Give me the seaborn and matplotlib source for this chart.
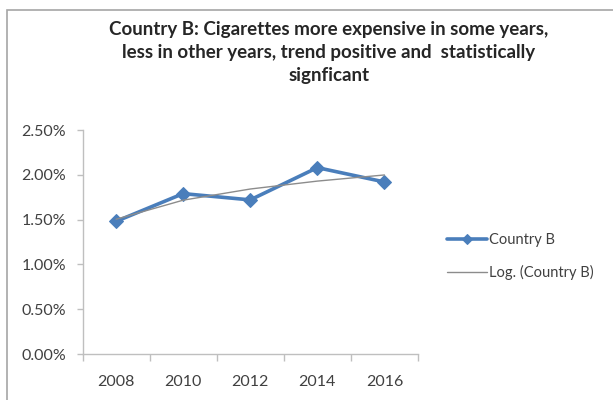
import numpy as np
import pandas as pd
import matplotlib
matplotlib.use("Agg")
import matplotlib.pyplot as plt
import seaborn as sns
from matplotlib.patches import Rectangle
from matplotlib.ticker import FuncFormatter

years = ["2008", "2010", "2012", "2014", "2016"]
country_b = [0.0148, 0.0179, 0.0172, 0.0208, 0.0192]
title = ("Country B: Cigarettes more expensive in some years,\n"
         "less in other years, trend positive and  statistically\n"
         "signficant")

sns.set_theme(style="white")
plt.rcParams['font.family'] = ['Lato', 'DejaVu Sans']

idx = np.arange(len(years))
df = pd.DataFrame({"x": idx, "y": country_b})

# logarithmic trendline (Excel style: y = a*ln(x) + b, x = 1..n)
lx = np.log(idx + 1)
a, b = np.polyfit(lx, np.array(country_b), 1)
trend = pd.DataFrame({"x": idx, "y": a * lx + b})

fig = plt.figure(figsize=(6.13, 4.0), dpi=100)
fig.patches.append(Rectangle((7 / 613, -0.1), 1.2, (400 - 10) / 400 + 0.1,
                             transform=fig.transFigure, fill=False,
                             edgecolor="#a6a6a6", linewidth=1.2))

ax = fig.add_axes([82.5 / 613, 46 / 400, (418 - 82.5) / 613, (354 - 130) / 400])

blue = "#4A7EBB"
sns.lineplot(data=df, x="x", y="y", ax=ax, color=blue, linewidth=2.6,
             marker="D", markersize=7.5, markeredgecolor=blue,
             label="Country B")
sns.lineplot(data=trend, x="x", y="y", ax=ax, color="#8c8c8c",
             linewidth=1.0, label="Log. (Country B)")

ax.set_xlim(-0.5, len(years) - 0.5)
ax.set_ylim(0, 0.025)
ax.set_yticks(np.arange(0, 0.0251, 0.005))
ax.yaxis.set_major_formatter(FuncFormatter(lambda v, p: f"{v*100:.2f}%"))
ax.set_xticks(idx)
ax.set_xticklabels(years)
ax.set_xticks(np.arange(-0.5, len(years), 1.0), minor=True)
ax.set_xlabel("")
ax.set_ylabel("")

for s in ["top", "right"]:
    ax.spines[s].set_visible(False)
for s in ["left", "bottom"]:
    ax.spines[s].set_color("#bfbfbf")
    ax.spines[s].set_linewidth(1.0)

ax.tick_params(axis="y", which="major", length=4, width=1, color="#bfbfbf",
               direction="out", left=True, labelsize=11.5, labelcolor="#404040", pad=8)
ax.tick_params(axis="x", which="major", length=0, labelsize=11.5,
               labelcolor="#404040", pad=15)
ax.tick_params(axis="x", which="minor", length=5, width=1, color="#bfbfbf",
               direction="out", bottom=True)

leg = ax.legend(loc="center left", bbox_to_anchor=(447 / 613, 1 - 256.5 / 400),
                bbox_transform=fig.transFigure, frameon=False, fontsize=10.5,
                borderpad=0, borderaxespad=0,
                handlelength=2.75, handletextpad=0.15, labelspacing=1.2,
                labelcolor="#404040")
for h in leg.legend_handles:
    h.set_markersize(5)

fig.text(329 / 613, 1 - 21 / 400, title, ha="center", va="top",
         fontsize=13.5, fontweight="bold", color="#262626", linespacing=1.43)

fig.savefig("out.png", dpi=100)
